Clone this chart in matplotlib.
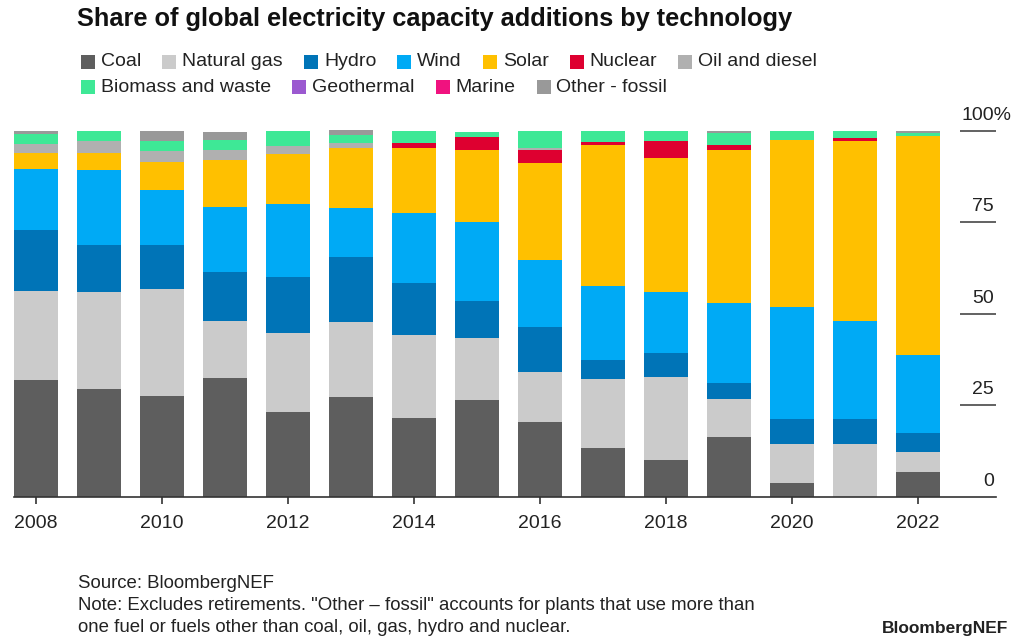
import numpy as np
import matplotlib
matplotlib.use("Agg")
import matplotlib.pyplot as plt
from matplotlib.patches import Rectangle

plt.rcParams["font.family"] = ["Liberation Sans", "DejaVu Sans"]

W, H = 1015, 636

YEARS = list(range(2008, 2023))
TECHS = ["Coal", "Natural gas", "Hydro", "Wind", "Solar", "Nuclear", "Oil and diesel",
         "Biomass and waste", "Geothermal", "Marine", "Other - fossil"]
COLORS = ["#5e5e5e", "#cbcbcb", "#0074b7", "#00aaf5", "#ffc000", "#de0030", "#b0b0b0",
          "#3ee896", "#9b59d0", "#f0127f", "#999999"]

# share of additions, %
coal = [31.9, 29.6, 27.6, 32.4, 23.1, 27.4, 21.6, 26.6, 20.4, 13.4, 10.1, 16.3, 3.9, 0.0, 6.9]
gas = [24.4, 26.3, 29.3, 15.6, 21.8, 20.5, 22.6, 16.9, 13.8, 18.7, 22.7, 10.5, 10.5, 14.4, 5.5]
hydro = [16.5, 13.0, 12.0, 13.4, 15.2, 17.7, 14.3, 10.0, 12.1, 5.4, 6.4, 4.2, 6.9, 6.9, 5.2]
wind = [16.8, 20.4, 14.8, 17.7, 19.8, 13.2, 18.9, 21.5, 18.4, 20.0, 16.8, 22.0, 30.6, 26.8, 21.2]
solar = [4.4, 4.6, 7.7, 12.9, 13.8, 16.4, 18.0, 19.7, 26.5, 38.5, 36.5, 41.8, 45.5, 49.1, 59.7]
nuclear = [0, 0, 0, 0, 0, 0, 1.3, 3.6, 3.5, 0.9, 4.6, 1.2, 0, 0.9, 0]
oil = [2.5, 3.2, 3.0, 2.7, 2.0, 1.4, 0, 0, 0.7, 0, 0, 0, 0, 0, 0]
biomass = [2.7, 2.7, 2.9, 2.7, 4.2, 2.3, 3.3, 1.4, 4.5, 3.0, 2.7, 3.4, 2.5, 1.8, 1.0]
geothermal = [0, 0, 0, 0, 0, 0, 0, 0, 0, 0, 0, 0, 0, 0, 0]
marine = [0, 0, 0, 0, 0, 0, 0, 0, 0, 0, 0, 0, 0, 0, 0]
other_fossil = [0.7, 0.2, 2.5, 2.3, 0, 1.2, 0, 0, 0, 0, 0, 0.5, 0, 0, 0.4]
SERIES = [coal, gas, hydro, wind, solar, nuclear, oil, biomass, geothermal, marine, other_fossil]

Y_TICKS = [0, 25, 50, 75, 100]
X_TICKS = [2008, 2010, 2012, 2014, 2016, 2018, 2020, 2022]

TXT = "#222222"


def fx(px):
    return px / W


def fy(py):
    return 1 - py / H


fig = plt.figure(figsize=(W / 100, H / 100), dpi=100)
# axes: x 14..996 px, y 130.7..497 px
ax = fig.add_axes([fx(14), fy(497), fx(996 - 14), (497 - 130.7) / H])
x = np.arange(len(YEARS))
bottom = np.zeros(len(YEARS))
for vals, col in zip(SERIES, COLORS):
    v = np.array(vals, dtype=float)
    ax.bar(x, v, bottom=bottom, width=0.70, color=col, linewidth=0, clip_on=False)
    bottom += v

ax.set_xlim((14 - 36) / 63, (996 - 36) / 63)
ax.set_ylim(0, 100)
for s in ["top", "right", "left"]:
    ax.spines[s].set_visible(False)
ax.spines["bottom"].set_color("#333333")
ax.spines["bottom"].set_linewidth(1.2)
ax.set_yticks([])
ax.set_xticks([YEARS.index(y) for y in X_TICKS])
ax.set_xticklabels([str(y) for y in X_TICKS], fontsize=14, color=TXT)
ax.tick_params(axis="x", length=5, width=1.2, color="#333333", pad=8)

# right-hand value scale with short rules
ytr = ax.get_yaxis_transform()
for v in Y_TICKS:
    if v > 0:
        ax.plot([0.9633, 1.0], [v, v], transform=ytr, color="#555555", lw=1.3,
                clip_on=False, solid_capstyle="butt")
    if v == 100:
        ax.annotate("100%", xy=(0.9633, v), xycoords=ytr, xytext=(1, 8),
                    textcoords="offset points", ha="left", va="baseline",
                    fontsize=14, color=TXT)
    else:
        ax.annotate(str(v), xy=(0.998, v), xycoords=ytr, xytext=(0, 8),
                    textcoords="offset points", ha="right", va="baseline",
                    fontsize=14, color=TXT)

# title
fig.text(fx(77), fy(19), "Share of global electricity capacity additions by technology",
         fontsize=18.3, fontweight="bold", color="#111111", va="center", ha="left")

# legend, laid out in two rows like the original
fig.canvas.draw()
renderer = fig.canvas.get_renderer()
rows = [TECHS[:7], TECHS[7:]]
row_y = [62, 87]
sq = 14
for names, yy in zip(rows, row_y):
    xx = 81
    for name in names:
        col = COLORS[TECHS.index(name)]
        fig.patches.append(Rectangle((fx(xx), fy(yy + sq / 2)), fx(sq), sq / H,
                                     transform=fig.transFigure, facecolor=col,
                                     edgecolor="none"))
        t = fig.text(fx(xx + sq + 6), fy(yy), name, fontsize=14, color=TXT,
                     va="center", ha="left")
        wpx = t.get_window_extent(renderer).width
        xx = xx + sq + 6 + wpx + 21

# footer
fig.text(fx(78), fy(583), "Source: BloombergNEF", fontsize=13.4, color=TXT, va="center")
fig.text(fx(78), fy(606), "Note: Excludes retirements. \"Other \u2013 fossil\" accounts for plants "
         "that use more than", fontsize=13.4, color=TXT, va="center")
fig.text(fx(78), fy(628), "one fuel or fuels other than coal, oil, gas, hydro and nuclear.",
         fontsize=13.4, color=TXT, va="center")
fig.text(fx(1008), fy(628), "BloombergNEF", fontsize=12.5, fontweight="bold", color=TXT,
         va="center", ha="right", family=["Liberation Sans Narrow", "Liberation Sans"])

fig.savefig("out.png", dpi=100)
